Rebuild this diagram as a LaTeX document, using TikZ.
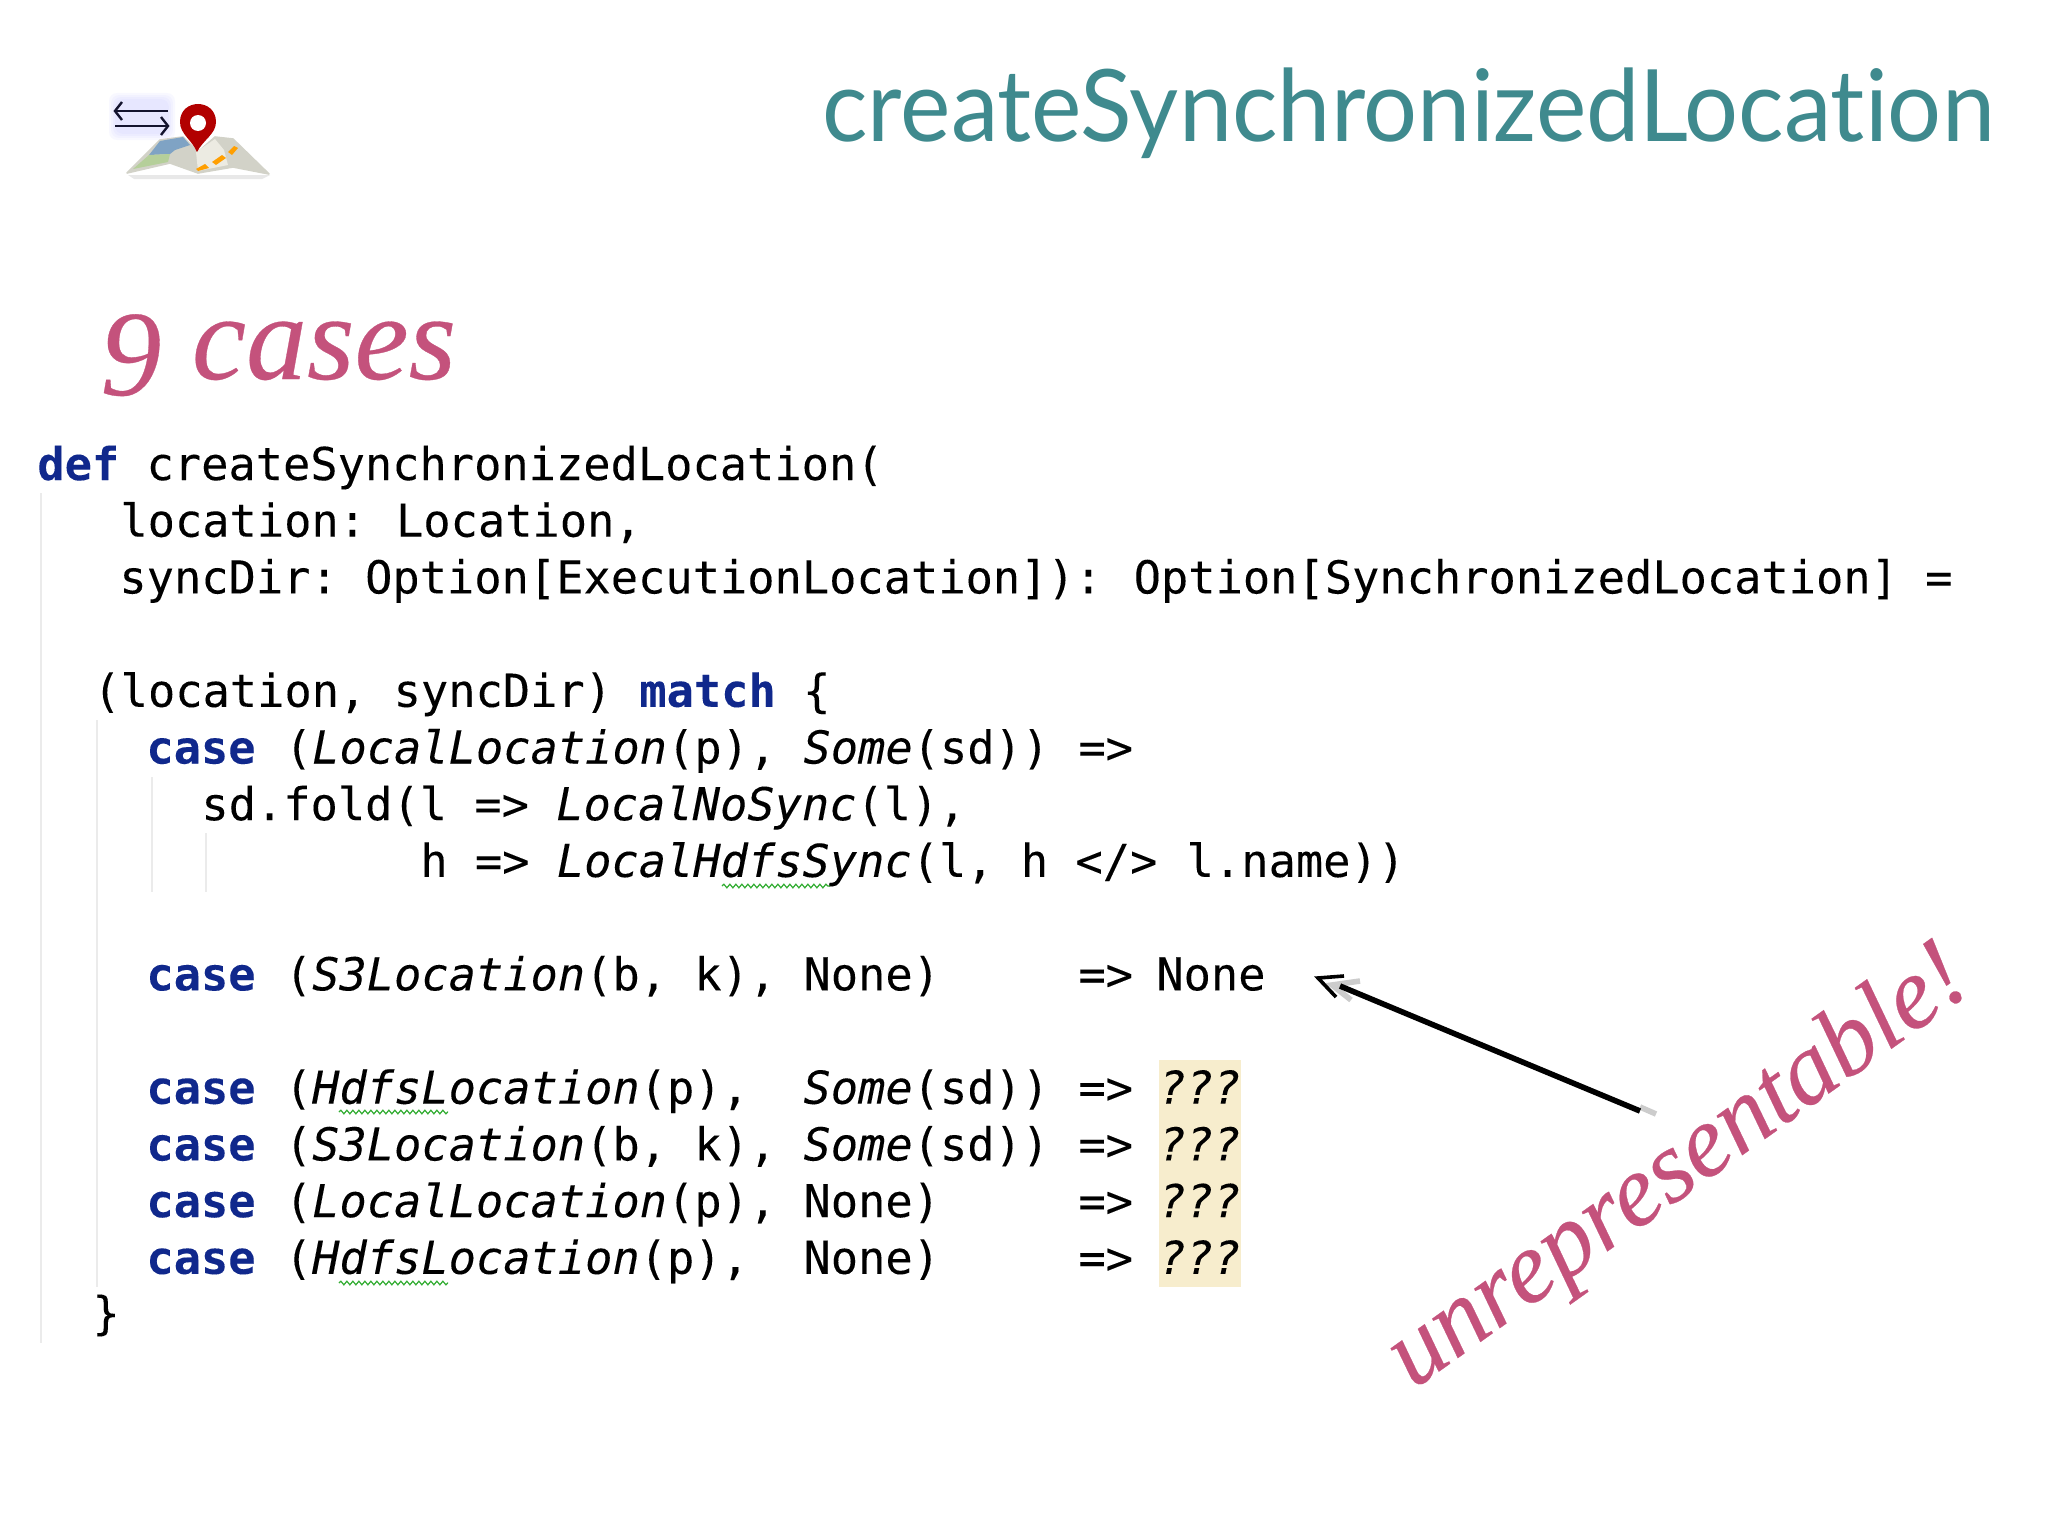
\documentclass[tikz,border=0pt]{standalone}
\usepackage{fontspec}
\usetikzlibrary{decorations.pathmorphing}
\newfontfamily\codefont[FakeBold=0.12]{DejaVu Sans Mono}
\newfontfamily\titlefont[Ligatures=NoCommon,FakeStretch=0.953]{Lato}
\newfontfamily\handfont[FakeBold=0.25]{Liberation Serif}
\definecolor{titleTeal}{HTML}{3F8A8E}
\definecolor{slidePink}{HTML}{C4527C}
\definecolor{keyBlue}{HTML}{10288C}
\definecolor{guideGray}{HTML}{EBEBEB}
\definecolor{holeYellow}{HTML}{F7EDCD}
\definecolor{arrowNavy}{HTML}{14142E}
\definecolor{mapBlue}{HTML}{7FA3C4}
\definecolor{mapGreen}{HTML}{B5CF9A}
\definecolor{mapGray}{HTML}{D2D2C8}
\definecolor{mapLight}{HTML}{ECEBE2}
\newcommand{\kw}[1]{\textcolor{keyBlue}{\bfseries #1}}
\newcommand{\ty}[1]{{\itshape #1}}
\newcommand{\casekw}{\kw{case}\hspace{1pt}}
\newcommand{\arr}{\hspace{1pt}=>\hspace{-2pt}}
\newcommand{\holes}{\hspace{1.2pt}\ty{???}}
\tikzset{x=0.5pt,y=-0.5pt,
	codeline/.style={anchor=base west,inner sep=0pt,font=\codefont\fontsize{22.67}{24}\selectfont},
	guide/.style={guideGray,line width=1pt},
	squiggle/.style={green!60!black!80!white,line width=0.6pt,decorate,decoration={snake,amplitude=0.9pt,segment length=3pt}},
	arrowInk/.style={line width=2.8pt},
	barbInk/.style={line width=1.8pt},
	iconArrow/.style={arrowNavy,line width=1.2pt},
	}
\begin{document}
\begin{tikzpicture}
	\useasboundingbox (0,0) rectangle (2048,1536);
	\fill[white] (0,0) rectangle (2048,1536);
	%icon
	\foreach \grow in {0,2,4,6}
		\fill[blue!30!white,opacity=.08,rounded corners=4pt] (115-\grow,99-\grow) rectangle (169+\grow,134+\grow);
	\fill[gray!18] (134,179) -- (262,179) -- (270,175) -- (128,175) -- cycle;
	\fill[mapGray,draw=mapGray,line width=0.8pt,line join=round] (127,173) -- (160,140) -- (183,137) -- (198,152) -- (215,137) -- (233,139) -- (269,174) -- (233,167) -- (198,173) -- (170,163) -- cycle;
	\fill[mapBlue] (149,155) -- (160,141) -- (183,137) -- (190,145) -- (175,150) -- (170,154) -- cycle;
	\fill[mapGreen] (133,169) -- (149,155) -- (170,154) -- (168,162) -- cycle;
	\fill[mapLight] (196,152) -- (215,139) -- (224,150) -- (228,165) -- (198,171) -- cycle;
	\fill[orange!75!yellow] (196,169) -- (205,164) -- (209,168) -- (198,171) -- cycle (212,162) -- (222,155) -- (226,158) -- (216,165) -- cycle (228,152) -- (234,146) -- (238,148) -- (232,155) -- cycle;
	\fill[red!70!black] (197,152) .. controls (192,140) and (180,134) .. (180,122) .. controls (180,98) and (216,98) .. (216,122) .. controls (216,134) and (203,140) .. (197,152) -- cycle;
	\fill[white] (198,123) circle[radius=8];
	\draw[iconArrow] (168,111) -- (116,111);
	\draw[iconArrow] (115,126) -- (168,126);
	\draw[iconArrow] (122,102) -- (115,111) -- (122,120);
	\draw[iconArrow] (161,117) -- (168,126) -- (161,135);
	%headings
	\node[anchor=base west,inner sep=0pt,text=titleTeal,font=\titlefont\fontsize{50}{60}\selectfont] (slideTitle) at (822,141) {createSynchronizedLocation};
	\node[anchor=base west,inner sep=0pt,text=slidePink,font=\handfont\fontsize{61}{70}\selectfont\itshape] (caseCount) at (100,379) {\raisebox{-8pt}{9} cases};
	%indent guides
	\draw[guide] (41,493) -- (41,1343);
	\draw[guide] (97,720) -- (97,1287);
	\draw[guide] (152,777) -- (152,892);
	\draw[guide] (206,833) -- (206,892);
	\fill[holeYellow] (1159,1060) rectangle (1241,1287);
	%code
	\node[codeline] (defLine) at (37,480) {\kw{def} createSynchronizedLocation(};
	\node[codeline] (locParam) at (120,536.7) {location:\hspace{-3.2pt} Location,};
	\node[codeline] (dirParam) at (119,593.4) {syncDir:\hspace{-4.5pt} Option[ExecutionLocation]):\hspace{-2.4pt} Option[SynchronizedLocation] =};
	\node[codeline] (matchLine) at (93,706.8) {(location, syncDir) \kw{match} \{};
	\node[codeline] (caseLocalSome) at (146,763.5) {\casekw{} (\ty{LocalLocation}(p), \ty{Some}(sd)) \arr};
	\node[codeline] (foldLine) at (201,820.2) {sd.fold(l => \ty{LocalNoSync}(l),};
	\node[codeline] (syncLine) at (420,876.9) {h => \ty{LocalHdfsSync}(l, h </>\hspace{1pt} l.name))};
	\node[codeline] (caseThreeNone) at (146,990.3) {\casekw{} (\ty{S3Location}(b, k), None)~~~~~\arr{} None};
	\node[codeline] (caseHdfsSome) at (146,1103.7) {\casekw{} (\ty{HdfsLocation}(p),~~\ty{Some}(sd)) \arr{} \holes};
	\node[codeline] (caseThreeSome) at (146,1160.4) {\casekw{} (\ty{S3Location}(b, k), \ty{Some}(sd)) \arr{} \holes};
	\node[codeline] (caseLocalNone) at (146,1217.1) {\casekw{} (\ty{LocalLocation}(p), None)~~~~~\arr{} \holes};
	\node[codeline] (caseHdfsNone) at (146,1273.8) {\casekw{} (\ty{HdfsLocation}(p),~~None)~~~~~\arr{} \holes};
	\node[codeline] (closeBrace) at (92,1329) {\}};
	%spelling marks
	\draw[squiggle] (722,886) -- (830,886);
	\draw[squiggle] (339,1112) -- (448,1112);
	\draw[squiggle] (339,1283) -- (448,1283);
	%arrow
	\coordinate (tailEnd) at (1640,1111);
	\coordinate (shaftEnd) at (1340,986);
	\coordinate (arrowTip) at (1318,978);
	\draw[gray!40,arrowInk] (1656,1114) -- (1640,1107) (1360,981) -- (1332,985) -- (1351,1000);
	\draw[arrowInk] (tailEnd) -- (shaftEnd);
	\draw[barbInk] (1344,976) -- (arrowTip) -- (1336,997);
	\node[anchor=base west,inner sep=0pt,rotate=35.5,text=slidePink,font=\handfont\fontsize{51}{60}\selectfont\itshape] (unrepLabel) at (1413,1390) {unrepresentable!};
\end{tikzpicture}
\end{document}
